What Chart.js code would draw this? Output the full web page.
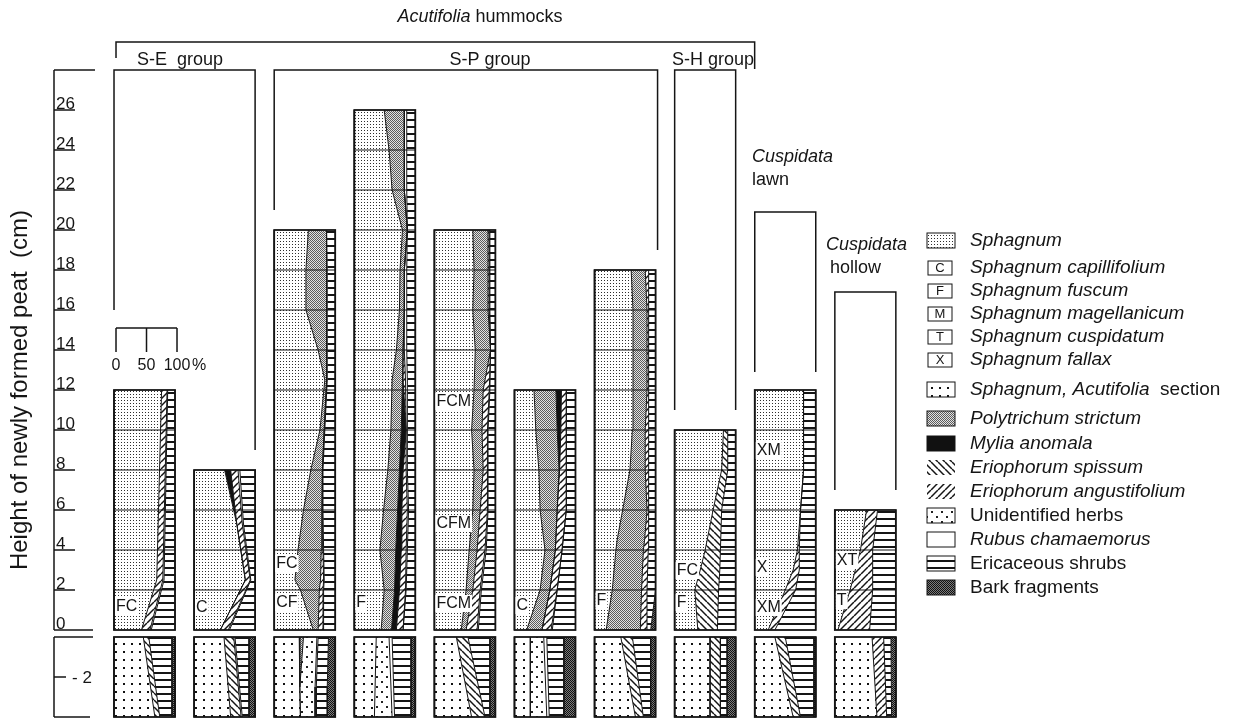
<!DOCTYPE html>
<html>
<head>
<meta charset="utf-8">
<script src="https://cdn.jsdelivr.net/npm/chart.js@4.4.1/dist/chart.umd.min.js"></script>
<style>
  html, body { margin: 0; padding: 0; background: #fff; }
  canvas { display: block; }
</style>
</head>
<body>
<canvas id="peat" width="1235" height="719"></canvas>
<script>
// ---------------------------------------------------------------------------
// Newly formed peat: composition (% cover) against height above the marker
// level (cm). Each array lists the share of one component at the heights
// given in the matching h-array, components stacked left to right.
// ---------------------------------------------------------------------------

// Core 1 (S-E group)
const h1 = [0, 2.5, 12];
const sph1 = [45, 70, 78];
const eang1 = [14, 10, 9];
const rub1 = [2, 2, 1];
const shr1 = [39, 18, 12];

// Core 2 (S-E group)
const h2 = [0, 2.5, 5.3, 8];
const sph2 = [43, 84, 70, 50];
const myl2 = [0, 0, 0, 10];
const eang2 = [13, 8, 9, 12];
const rub2 = [2, 1, 2, 3];
const shr2 = [42, 7, 19, 25];

// Core 3 (S-P group)
const h3 = [0, 2, 2.5, 4, 6, 8, 10, 12.5, 14, 16, 18, 20];
const sph3 = [64, 43, 34, 39, 48, 60, 75, 83, 72, 52, 52, 56];
const pol3 = [8, 31, 42, 38, 30, 19, 7, 3, 14, 34, 34, 29];
const eang3 = [8, 6, 5, 3, 1, 0, 0, 0, 0, 0, 0, 0];
const rub3 = [1, 1, 1, 1, 1, 1, 1, 1, 1, 1, 1, 1];
const shr3 = [19, 19, 18, 19, 20, 20, 17, 13, 13, 13, 13, 14];

// Core 4 (S-P group)
const h4 = [0, 2, 4, 6, 8, 10, 12.5, 14, 16, 18, 20, 22, 24, 26];
const sph4 = [44, 49, 42, 48, 55, 60, 62, 69, 74, 75, 79, 62, 57, 49];
const pol4 = [17, 17, 26, 23, 19, 17, 17, 11, 8, 7, 8, 20, 25, 33];
const myl4 = [8, 8, 9, 7, 6, 8, 1, 0, 0, 0, 0, 0, 0, 0];
const eang4 = [11, 10, 8, 9, 5, 0, 4, 2, 0, 0, 0, 0, 0, 0];
const rub4 = [0, 1, 2, 2, 2, 2, 3, 4, 4, 4, 0, 4, 4, 4];
const shr4 = [20, 15, 13, 11, 13, 13, 13, 14, 14, 14, 13, 14, 14, 14];

// Core 5 (S-P group)
const h5 = [0, 2, 4, 6, 8, 10, 12, 14, 16, 18, 20];
const sph5 = [44, 52, 57, 63, 65, 61, 65, 67, 63, 65, 63];
const pol5 = [8, 11, 13, 12, 15, 17, 15, 25, 25, 23, 25];
const eang5 = [18, 12, 13, 12, 7, 9, 10, 0, 2, 2, 2];
const rub5 = [2, 2, 2, 1, 1, 1, 1, 0, 1, 1, 1];
const shr5 = [28, 23, 15, 12, 12, 12, 9, 8, 9, 9, 9];

// Core 6 (S-P group)
const h6 = [0, 2, 4, 6, 8, 10, 12];
const sph6 = [20, 42, 50, 42, 40, 35, 32];
const pol6 = [25, 16, 17, 28, 33, 35, 36];
const myl6 = [0, 0, 0, 0, 1, 6, 9];
const eang6 = [15, 12, 11, 15, 11, 9, 8];
const rub6 = [2, 0, 0, 0, 0, 0, 0];
const shr6 = [38, 30, 22, 15, 15, 15, 15];

// Core 7 (S-P group)
const h7 = [0, 2, 4, 4.5, 6, 8, 10, 12, 14, 16, 18];
const sph7 = [19, 29, 35, 37, 46, 58, 62, 63, 63, 63, 60];
const pol7 = [56, 48, 45, 45, 40, 25, 21, 23, 23, 23, 23];
const eang7 = [11, 9, 8, 6, 3, 5, 5, 3, 3, 3, 6];
const shr7 = [6, 14, 12, 12, 11, 12, 12, 11, 11, 11, 11];
const bark7 = [8, 0, 0, 0, 0, 0, 0, 0, 0, 0, 0];

// Core 8 (S-H group)
const h8 = [0, 2, 3, 4, 6, 8, 10];
const sph8 = [38, 33, 42, 50, 63, 77, 80];
const espi8 = [32, 39, 32, 25, 14, 10, 7];
const shr8 = [30, 28, 26, 25, 23, 13, 13];

// Core 9 (Cuspidata lawn)
const h9 = [0, 2, 3, 4, 6, 8, 10, 12];
const sph9 = [22, 50, 63, 70, 75, 80, 80, 80];
const eang9 = [11, 17, 10, 3, 0, 0, 0, 0];
const shr9 = [67, 33, 27, 27, 25, 20, 20, 20];

// Core 10 (Cuspidata hollow)
const h10 = [0, 2, 4, 6];
const sph10 = [5, 25, 42, 52];
const eang10 = [52, 37, 20, 18];
const shr10 = [43, 38, 38, 30];

// ---------------------------------------------------------------------------
// Old peat below the marker level (cm, negative = below)
// ---------------------------------------------------------------------------
const lowH = [0, -4];
const lowH3 = [0, -2.5, -4];

const acutL1 = [48, 67], espiL1 = [9, 8], shrL1 = [38, 20], barkL1 = [5, 5];
const acutL2 = [49, 60], espiL2 = [16, 17], rubL2 = [2, 2], shrL2 = [23, 11], barkL2 = [10, 10];
const acutL3 = [41, 42, 43], polL3 = [7, 0, 0], herbL3 = [22, 25, 24], rubL3 = [2, 2, 2], shrL3 = [17, 18, 18], barkL3 = [11, 13, 13];
const acutL4 = [36, 33], herbL4 = [21, 29], rubL4 = [5, 4], shrL4 = [31, 27], barkL4 = [7, 7];
const acutL5 = [36, 61], espiL5 = [19, 22], shrL5 = [36, 8], barkL5 = [9, 9];
const acutL6 = [26, 26], herbL6 = [22, 27], rubL6 = [5, 4], shrL6 = [28, 24], barkL6 = [19, 19];
const acutL7 = [43, 67], espiL7 = [19, 13], shrL7 = [30, 12], barkL7 = [8, 8];
const acutL8 = [58, 58], espiL8 = [17, 17], shrL8 = [11, 11], barkL8 = [14, 14];
const acutL9 = [33, 63], espiL9 = [17, 12], shrL9 = [47, 22], barkL9 = [3, 3];
const acutL10 = [61, 69], eangL10 = [19, 16], shrL10 = [12, 8], barkL10 = [8, 7];

// Sphagnum species codes written inside the cores
const labelCore = [0, 1, 2, 2, 3, 4, 4, 4, 5, 6, 7, 7, 8, 8, 8, 9, 9];
const labelText = ['FC', 'C', 'FC', 'CF', 'F', 'FCM', 'CFM', 'FCM', 'C', 'F', 'FC', 'F', 'XM', 'X', 'XM', 'XT', 'T'];
const labelHeight = [1.2, 1.15, 3.35, 1.4, 1.4, 11.45, 5.35, 1.35, 1.25, 1.5, 3.0, 1.4, 9.0, 3.15, 1.15, 3.5, 1.5];

// Axis ticks
const heightTicks = [0, 2, 4, 6, 8, 10, 12, 14, 16, 18, 20, 22, 24, 26];
const depthTicks = [-2];
const scaleBarTicks = [0, 50, 100];

// Legend
const legendKeys = ['sph', 'C', 'F', 'M', 'T', 'X', 'acut', 'poly', 'mylia', 'espi', 'eang', 'herbs', 'rubus', 'shrubs', 'bark'];
const legendLabels = [
  [['Sphagnum', 1]],
  [['Sphagnum capillifolium', 1]],
  [['Sphagnum fuscum', 1]],
  [['Sphagnum magellanicum', 1]],
  [['Sphagnum cuspidatum', 1]],
  [['Sphagnum fallax', 1]],
  [['Sphagnum, ', 1], ['Acutifolia', 1], ['  section', 0]],
  [['Polytrichum strictum', 1]],
  [['Mylia anomala', 1]],
  [['Eriophorum spissum', 1]],
  [['Eriophorum angustifolium', 1]],
  [['Unidentified herbs', 0]],
  [['Rubus chamaemorus', 1]],
  [['Ericaceous shrubs', 0]],
  [['Bark fragments', 0]]
];
const legendRowY = [241, 268, 291, 314, 337, 360, 390, 419, 444, 468, 492, 516, 540, 564, 588];

// ---------------------------------------------------------------------------
// Layout
// ---------------------------------------------------------------------------
const FONT = "'Liberation Sans', Arial, Helvetica, sans-serif";
const PITCH = 131.3;                 // distance between cores in % units
const X_MIN = -186.9;
const X_MAX = X_MIN + 1235 / 0.61;
const Y_MIN = -4.45, Y_MAX = 31.5;
const LOWER_SHIFT = -0.35;           // gap between the two sections
const INK = '#151515';

const upperCores = [
  {h: h1, parts: {sph: sph1, eang: eang1, rubus: rub1, shrubs: shr1}},
  {h: h2, parts: {sph: sph2, mylia: myl2, eang: eang2, rubus: rub2, shrubs: shr2}},
  {h: h3, parts: {sph: sph3, poly: pol3, eang: eang3, rubus: rub3, shrubs: shr3}},
  {h: h4, parts: {sph: sph4, poly: pol4, mylia: myl4, eang: eang4, rubus: rub4, shrubs: shr4}},
  {h: h5, parts: {sph: sph5, poly: pol5, eang: eang5, rubus: rub5, shrubs: shr5}},
  {h: h6, parts: {sph: sph6, poly: pol6, mylia: myl6, eang: eang6, rubus: rub6, shrubs: shr6}},
  {h: h7, parts: {sph: sph7, poly: pol7, eang: eang7, shrubs: shr7, bark: bark7}},
  {h: h8, parts: {sph: sph8, espi: espi8, shrubs: shr8}},
  {h: h9, parts: {sph: sph9, eang: eang9, shrubs: shr9}},
  {h: h10, parts: {sph: sph10, eang: eang10, shrubs: shr10}}
];
const lowerCores = [
  {h: lowH, parts: {acut: acutL1, espi: espiL1, shrubs: shrL1, bark: barkL1}},
  {h: lowH, parts: {acut: acutL2, espi: espiL2, rubus: rubL2, shrubs: shrL2, bark: barkL2}},
  {h: lowH3, parts: {acut: acutL3, poly: polL3, herbs: herbL3, rubus: rubL3, shrubs: shrL3, bark: barkL3}},
  {h: lowH, parts: {acut: acutL4, herbs: herbL4, rubus: rubL4, shrubs: shrL4, bark: barkL4}},
  {h: lowH, parts: {acut: acutL5, espi: espiL5, shrubs: shrL5, bark: barkL5}},
  {h: lowH, parts: {acut: acutL6, herbs: herbL6, rubus: rubL6, shrubs: shrL6, bark: barkL6}},
  {h: lowH, parts: {acut: acutL7, espi: espiL7, shrubs: shrL7, bark: barkL7}},
  {h: lowH, parts: {acut: acutL8, espi: espiL8, shrubs: shrL8, bark: barkL8}},
  {h: lowH, parts: {acut: acutL9, espi: espiL9, shrubs: shrL9, bark: barkL9}},
  {h: lowH, parts: {acut: acutL10, eang: eangL10, shrubs: shrL10, bark: barkL10}}
];
const STACK_ORDER = ['sph', 'acut', 'poly', 'mylia', 'espi', 'eang', 'herbs', 'rubus', 'shrubs', 'bark'];

// ---------------------------------------------------------------------------
// Fill patterns
// ---------------------------------------------------------------------------
const canvas = document.getElementById('peat');
const ctx = canvas.getContext('2d');

function tile(w, h, draw) {
  const c = document.createElement('canvas');
  c.width = w; c.height = h;
  const g = c.getContext('2d');
  g.fillStyle = '#fff';
  g.fillRect(0, 0, w, h);
  draw(g, w, h);
  return ctx.createPattern(c, 'repeat');
}
function hatch(dir) {
  return tile(7, 7, (g, w) => {
    g.strokeStyle = INK; g.lineWidth = 1.5;
    for (let k = -1; k <= 1; k++) {
      g.beginPath();
      if (dir > 0) { g.moveTo(k * w, w); g.lineTo(k * w + w, 0); }
      else { g.moveTo(k * w, 0); g.lineTo(k * w + w, w); }
      g.stroke();
    }
  });
}
const PATTERNS = {
  sph: tile(3, 3, g => { g.fillStyle = '#2e2e2e'; g.fillRect(1, 1, 1, 1); }),
  acut: tile(8, 8, g => { g.fillStyle = '#111'; g.fillRect(3, 3, 2, 2); }),
  poly: tile(2, 2, g => { g.fillStyle = '#e2e2e2'; g.fillRect(0, 0, 2, 2); g.fillStyle = '#5c5c5c'; g.fillRect(0, 0, 1, 1); g.fillRect(1, 1, 1, 1); }),
  mylia: '#111',
  espi: hatch(-1),
  eang: hatch(1),
  herbs: tile(10, 10, g => { g.fillStyle = '#222'; g.fillRect(1, 1, 2, 2); g.fillRect(6, 6, 2, 2); }),
  rubus: '#ffffff',
  shrubs: tile(4, 7, g => { g.fillStyle = INK; g.fillRect(0, 0, 4, 2); }),
  bark: tile(2, 2, g => { g.fillStyle = '#7a7a7a'; g.fillRect(0, 0, 2, 2); g.fillStyle = '#111'; g.fillRect(0, 0, 1, 1); g.fillRect(1, 1, 1, 1); })
};

// ---------------------------------------------------------------------------
// Datasets: one boundary line per cumulative %, each filled to the previous
// ---------------------------------------------------------------------------
const datasets = [];
function addCore(core, col, shift) {
  const x0 = col * PITCH;
  const cum = core.h.map(() => 0);
  datasets.push({
    data: core.h.map(d => ({x: x0, y: d + shift})),
    fill: false, borderColor: INK, borderWidth: 1.5
  });
  STACK_ORDER.forEach(key => {
    const vals = core.parts[key];
    if (!vals) return;
    vals.forEach((v, i) => { cum[i] += v; });
    datasets.push({
      data: core.h.map((d, i) => ({x: x0 + cum[i], y: d + shift})),
      fill: '-1',
      backgroundColor: PATTERNS[key],
      borderColor: INK,
      borderWidth: 1
    });
  });
}
upperCores.forEach((c, i) => addCore(c, i, 0));
lowerCores.forEach((c, i) => addCore(c, i, LOWER_SHIFT));

// ---------------------------------------------------------------------------
// Drawing helpers for frames, axes, headings and legend
// ---------------------------------------------------------------------------
function segLine(c, x1, y1, x2, y2) {
  c.beginPath(); c.moveTo(x1, y1); c.lineTo(x2, y2); c.stroke();
}
function richText(c, parts, x, y, size, align) {
  const widths = parts.map(([t, it]) => {
    c.font = `${it ? 'italic ' : ''}${size}px ${FONT}`;
    return c.measureText(t).width;
  });
  const total = widths.reduce((a, b) => a + b, 0);
  let cx = align === 'center' ? x - total / 2 : x;
  c.textAlign = 'left';
  c.textBaseline = 'middle';
  parts.forEach(([t, it], i) => {
    c.font = `${it ? 'italic ' : ''}${size}px ${FONT}`;
    c.fillText(t, cx, y);
    cx += widths[i];
  });
}

const peatDecor = {
  id: 'peatDecor',
  afterDatasetsDraw(chart) {
    const c = chart.ctx;
    const xs = chart.scales.x, ys = chart.scales.y;
    const px = v => xs.getPixelForValue(v);
    const py = v => ys.getPixelForValue(v);
    const colL = i => px(i * PITCH);
    const colR = i => px(i * PITCH + 100);
    c.save();
    c.strokeStyle = INK;
    c.fillStyle = INK;

    // core frames and 2-cm division lines
    upperCores.forEach((core, i) => {
      const top = core.h[core.h.length - 1];
      c.lineWidth = 1;
      for (let v = 2; v < top; v += 2) segLine(c, colL(i), py(v), colR(i), py(v));
      c.lineWidth = 1.8;
      c.strokeRect(colL(i), py(top), colR(i) - colL(i), py(0) - py(top));
    });
    lowerCores.forEach((core, i) => {
      const top = py(core.h[0] + LOWER_SHIFT), bot = py(core.h[core.h.length - 1] + LOWER_SHIFT);
      c.lineWidth = 1.8;
      c.strokeRect(colL(i), top, colR(i) - colL(i), bot - top);
    });

    // species codes
    c.font = `16px ${FONT}`;
    c.textBaseline = 'middle';
    c.textAlign = 'left';
    labelText.forEach((t, k) => {
      const x = colL(labelCore[k]) + 2, y = py(labelHeight[k]);
      const w = c.measureText(t).width;
      c.fillStyle = '#fff';
      c.fillRect(x - 1, y - 8, w + 2, 17);
      c.fillStyle = INK;
      c.fillText(t, x, y + 0.5);
    });

    // height axis
    const ax = 54;
    c.lineWidth = 1.5;
    segLine(c, ax, py(28), ax, py(0));
    segLine(c, ax, py(28), ax + 41, py(28));
    c.font = `17px ${FONT}`;
    c.textAlign = 'left';
    c.textBaseline = 'alphabetic';
    heightTicks.forEach(v => {
      const y = py(v);
      segLine(c, ax, y, ax + (v === 0 ? 39 : 21), y);
      c.fillText(String(v), ax + 2, y - 1.5);
    });
    // depth axis below the marker level
    const lt = py(0 + LOWER_SHIFT), lb = py(-4 + LOWER_SHIFT);
    segLine(c, ax, lt, ax, lb);
    segLine(c, ax, lt, ax + 39, lt);
    segLine(c, ax, lb, ax + 36, lb);
    c.textBaseline = 'middle';
    depthTicks.forEach(v => {
      const y = py(v + LOWER_SHIFT);
      segLine(c, ax, y, ax + 12, y);
      c.fillText('- ' + Math.abs(v), ax + 18, y + 1);
    });

    // axis title
    c.save();
    c.translate(20, 390);
    c.rotate(-Math.PI / 2);
    richText(c, [['Height of newly formed peat  (cm)', 0]], 0, 0, 24, 'center');
    c.restore();

    // 0-50-100 % scale bar
    const sbY = py(15.1), sbT = py(13.9);
    c.lineWidth = 1.5;
    segLine(c, px(0) + 2, sbY, px(100) + 2, sbY);
    scaleBarTicks.forEach(t => segLine(c, px(t) + 2, sbY, px(t) + 2, sbT));
    c.font = `16px ${FONT}`;
    c.textAlign = 'center';
    c.textBaseline = 'middle';
    scaleBarTicks.forEach(t => c.fillText(String(t), px(t) + 2, py(13.2)));
    c.textAlign = 'left';
    c.fillText('%', px(100) + 17, py(13.2));

    // group brackets
    const bracket = (xl, xr, yt, yl, yr) => {
      c.beginPath(); c.moveTo(xl, yl); c.lineTo(xl, yt); c.lineTo(xr, yt); c.lineTo(xr, yr); c.stroke();
    };
    c.lineWidth = 1.5;
    bracket(colL(0) + 2, colR(7) + 19, py(29.4), py(28.6), py(28.05));
    bracket(colL(0), colR(1), py(28), py(16), py(9));
    bracket(colL(2), colR(6) + 2, py(28), py(21), py(19));
    bracket(colL(7), colR(7), py(28), py(11), py(11));
    bracket(colL(8), colR(8), py(20.9), py(12.9), py(12.9));
    bracket(colL(9), colR(9), py(16.9), py(7), py(7));

    c.fillStyle = INK;
    richText(c, [['Acutifolia', 1], [' hummocks', 0]], 480, 17, 18, 'center');
    richText(c, [['S-E  group', 0]], 180, 60, 18, 'center');
    richText(c, [['S-P group', 0]], 490, 60, 18, 'center');
    richText(c, [['S-H group', 0]], 713, 60, 18, 'center');
    richText(c, [['Cuspidata', 1]], 752, 157, 18, 'left');
    richText(c, [['lawn', 0]], 752, 180, 18, 'left');
    richText(c, [['Cuspidata', 1]], 826, 245, 18, 'left');
    richText(c, [['hollow', 0]], 830, 268, 18, 'left');

    // legend
    const sx = 927, sw = 28;
    legendKeys.forEach((key, i) => {
      const y = legendRowY[i];
      c.lineWidth = 1;
      if (key.length === 1) {
        c.fillStyle = '#fff';
        c.fillRect(sx + 1, y - 7, sw - 4, 14);
        c.strokeRect(sx + 1, y - 7, sw - 4, 14);
        c.fillStyle = INK;
        c.font = `13px ${FONT}`;
        c.textAlign = 'center';
        c.textBaseline = 'middle';
        c.fillText(key, sx + sw / 2 - 1, y + 0.5);
      } else {
        c.fillStyle = PATTERNS[key];
        c.fillRect(sx, y - 8, sw, 15);
        if (key !== 'espi' && key !== 'eang') c.strokeRect(sx, y - 8, sw, 15);
      }
      c.fillStyle = INK;
      richText(c, legendLabels[i], 970, y, 19, 'left');
    });
    c.restore();
  }
};

new Chart(ctx, {
  type: 'line',
  data: {datasets},
  options: {
    responsive: false,
    animation: false,
    events: [],
    indexAxis: 'y',
    layout: {padding: 0},
    elements: {point: {radius: 0}, line: {tension: 0}},
    scales: {
      x: {type: 'linear', min: X_MIN, max: X_MAX, display: false},
      y: {type: 'linear', min: Y_MIN, max: Y_MAX, display: false}
    },
    plugins: {
      legend: {display: false},
      tooltip: {enabled: false},
      filler: {drawTime: 'beforeDatasetsDraw', propagate: false}
    }
  },
  plugins: [peatDecor]
});
</script>
</body>
</html>
